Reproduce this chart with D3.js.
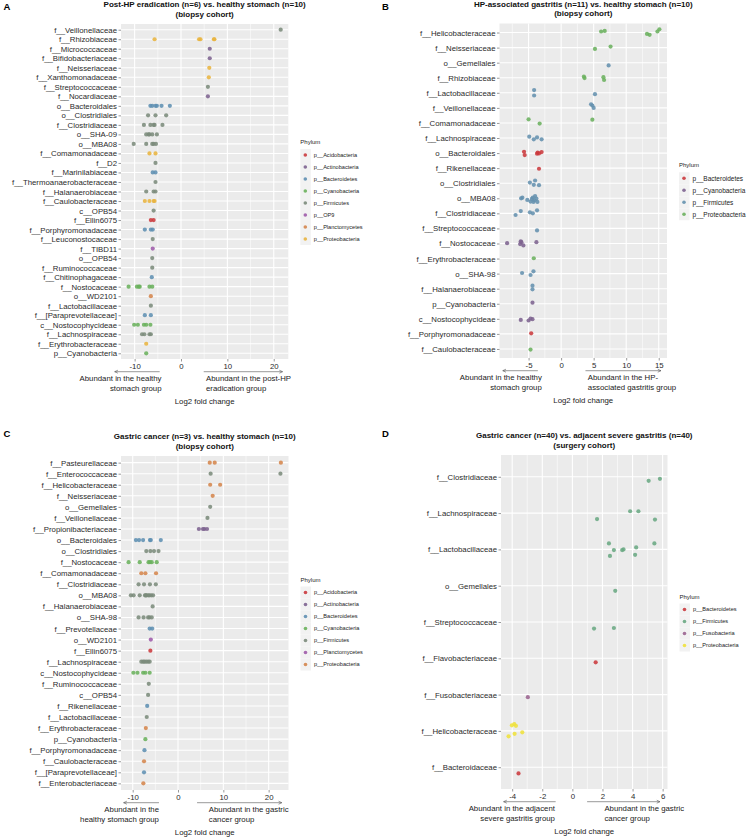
<!DOCTYPE html>
<html><head><meta charset="utf-8">
<script src="https://cdn.jsdelivr.net/npm/d3@7"></script>
<style>body{margin:0;background:#fff;} svg{display:block;font-family:"Liberation Sans",Arial,Helvetica,sans-serif;}</style>
</head><body><svg id="c" width="749" height="837"></svg>
<script>
// ---------- Panel A data ----------
const catsA = ["f__Veillonellaceae","f__Rhizobiaceae","f__Micrococcaceae","f__Bifidobacteriaceae","f__Neisseriaceae","f__Xanthomonadaceae","f__Streptococcaceae","f__Nocardiaceae","o__Bacteroidales","o__Clostridiales","f__Clostridiaceae","o__SHA-09","o__MBA08","f__Comamonadaceae","f__D2","f__Marinilabiaceae","f__Thermoanaerobacteraceae","f__Halanaerobiaceae","f__Caulobacteraceae","c__OPB54","f__Ellin6075","f__Porphyromonadaceae","f__Leuconostocaceae","f__TIBD11","o__OPB54","f__Ruminococcaceae","f__Chitinophagaceae","f__Nostocaceae","o__WD2101","f__Lactobacillaceae","f__[Paraprevotellaceae]","c__Nostocophycideae","f__Lachnospiraceae","f__Erythrobacteraceae","p__Cyanobacteria"];
const phylumOfA = ["p__Firmicutes","p__Proteobacteria","p__Actinobacteria","p__Actinobacteria","p__Proteobacteria","p__Proteobacteria","p__Firmicutes","p__Actinobacteria","p__Bacteroidetes","p__Firmicutes","p__Firmicutes","p__Firmicutes","p__Firmicutes","p__Proteobacteria","p__Firmicutes","p__Bacteroidetes","p__Firmicutes","p__Firmicutes","p__Proteobacteria","p__Firmicutes","p__Acidobacteria","p__Bacteroidetes","p__Firmicutes","p__OP9","p__Firmicutes","p__Firmicutes","p__Bacteroidetes","p__Cyanobacteria","p__Planctomycetes","p__Firmicutes","p__Bacteroidetes","p__Cyanobacteria","p__Firmicutes","p__Proteobacteria","p__Cyanobacteria"];
const valsA = [[21.5],[-5.7,3.9,4.2,7.1,7.2],[6.2],[6.2],[6.1],[6.0],[5.8],[5.8],[-6.6,-6.2,-5.5,-5.2,-4.2,-2.4],[-7.1,-5.5,-3.2],[-8.0,-6.6,-5.9,-5.7,-4.0],[-7.5,-7.0,-6.8,-6.2,-5.2],[-10.2,-7.5,-6.2,-5.9,-5.4],[-6.8,-5.5],[-5.5],[-6.1,-5.5],[-5.5],[-7.5,-5.9,-5.5],[-7.8,-6.8,-5.9,-5.7],[-5.9],[-6.5,-5.9],[-7.8,-6.5,-6.1],[-6.1],[-6.1],[-6.2],[-6.2],[-6.3],[-11.3,-9.5,-9.1,-8.9,-6.8,-6.2],[-6.5],[-6.5],[-7.8,-6.5],[-10.1,-9.3,-8.0,-7.5,-6.6],[-8.4,-7.9,-6.8,-6.5],[-7.5],[-7.5]];
const phylaA = ["p__Acidobacteria","p__Actinobacteria","p__Bacteroidetes","p__Cyanobacteria","p__Firmicutes","p__OP9","p__Planctomycetes","p__Proteobacteria"];
const colorsA = ["#CB3A3E","#7D6390","#5F8FB2","#6AB15C","#7B8B7B","#9E5BAA","#D4854C","#E8B440"];
const ticksA = [-10,0,10,20];

// ---------- Panel B data ----------
const catsB = ["f__Helicobacteraceae","f__Neisseriaceae","o__Gemellales","f__Rhizobiaceae","f__Lactobacillaceae","f__Veillonellaceae","f__Comamonadaceae","f__Lachnospiraceae","o__Bacteroidales","f__Rikenellaceae","o__Clostridiales","o__MBA08","f__Clostridiaceae","f__Streptococcaceae","f__Nostocaceae","f__Erythrobacteraceae","o__SHA-98","f__Halanaerobiaceae","p__Cyanobacteria","c__Nostocophycideae","f__Porphyromonadaceae","f__Caulobacteraceae"];
const phylumOfB = ["p__Proteobacteria","p__Proteobacteria","p__Firmicutes","p__Proteobacteria","p__Firmicutes","p__Firmicutes","p__Proteobacteria","p__Firmicutes","p__Bacteroidetes","p__Bacteroidetes","p__Firmicutes","p__Firmicutes","p__Firmicutes","p__Firmicutes","p__Cyanobacteria","p__Proteobacteria","p__Firmicutes","p__Firmicutes","p__Cyanobacteria","p__Cyanobacteria","p__Bacteroidetes","p__Proteobacteria"];
const valsB = [[6.15,6.7,13.2,13.6,14.8,15.1],[5.2,7.6],[7.3],[3.5,3.6,6.5,6.6],[-4.15,-4.15,5.2],[4.6,4.8,5.0],[-5.0,-3.3,4.8],[-4.9,-4.2,-3.7,-3.0],[-5.7,-5.6,-3.7,-3.6,-3.4,-3.0],[-3.4],[-4.8,-4.2,-4.0,-3.4],[-6.15,-5.95,-5.2,-4.7,-4.5,-4.35,-4.25,-4.0,-3.8,-3.65,-4.1],[-7.0,-6.2,-4.8,-4.35,-3.7],[-3.7],[-8.3,-6.3,-6.2,-6.1,-5.8,-3.8],[-4.2],[-6.0,-4.7,-4.25],[-4.4,-4.4],[-4.4],[-6.2,-5.0,-4.7,-4.4],[-4.6],[-4.7]];
const jitB = [[-0.07,-0.11,0.09,0.15,-0.07,-0.22],[0.09,-0.07],[0.18],[-0.07,0.02,-0.04,0.15],[-0.18,0.18,0.09],[-0.24,-0.15,0],[-0.24,0.04,-0.22],[-0.09,0.09,-0.04,0.09],[-0.09,0.13,0.04,-0.04,0.02,-0.07],[0.04],[-0.04,0.11,-0.18,0.13],[0,-0.04,0.11,0.22,0.04,-0.04,0.24,-0.15,0.02,0.24,0.13],[0.11,-0.15,-0.07,0,-0.2],[0.13],[-0.02,0.04,-0.15,-0.09,0.13,-0.09],[-0.02],[-0.04,0.09,-0.15],[-0.2,0.04],[-0.07],[0.07,0.11,-0.02,0.02],[-0.04],[0.04]];
const phylaB = ["p__Bacteroidetes","p__Cyanobacteria","p__Firmicutes","p__Proteobacteria"];
const colorsB = ["#CB3A3E","#7D6390","#6491AE","#6BB05E"];
const ticksB = [-5,0,5,10,15];

// ---------- Panel C data ----------
const catsC = ["f__Pasteurellaceae","f__Enterococcaceae","f__Helicobacteraceae","f__Neisseriaceae","o__Gemellales","f__Veillonellaceae","f__Propionibacteriaceae","o__Bacteroidales","o__Clostridiales","f__Nostocaceae","f__Comamonadaceae","f__Clostridiaceae","o__MBA08","f__Halanaerobiaceae","o__SHA-98","f__Prevotellaceae","o__WD2101","f__Ellin6075","f__Lachnospiraceae","c__Nostocophycideae","f__Ruminococcaceae","c__OPB54","f__Rikenellaceae","f__Lactobacillaceae","f__Erythrobacteraceae","p__Cyanobacteria","f__Porphyromonadaceae","f__Caulobacteraceae","f__[Paraprevotellaceae]","f__Enterobacteriaceae"];
const phylumOfC = ["p__Proteobacteria","p__Firmicutes","p__Proteobacteria","p__Proteobacteria","p__Firmicutes","p__Firmicutes","p__Actinobacteria","p__Bacteroidetes","p__Firmicutes","p__Cyanobacteria","p__Proteobacteria","p__Firmicutes","p__Firmicutes","p__Firmicutes","p__Firmicutes","p__Bacteroidetes","p__Planctomycetes","p__Acidobacteria","p__Firmicutes","p__Cyanobacteria","p__Firmicutes","p__Firmicutes","p__Bacteroidetes","p__Firmicutes","p__Proteobacteria","p__Cyanobacteria","p__Bacteroidetes","p__Proteobacteria","p__Bacteroidetes","p__Proteobacteria"];
const valsC = [[7.0,8.1,22.7],[7.2,22.6],[7.1,9.3],[7.65],[7.1],[6.5],[4.6,5.5,5.8,6.4],[-9.3,-8.6,-7.7,-6.2,-6.0,-3.8],[-7.0,-6.1,-5.3,-4.3],[-10.9,-8.45,-6.5,-6.2,-5.8,-4.7],[-8.1,-7.2,-4.85],[-8.7,-7.5,-6.2,-4.9],[-10.4,-9.8,-8.45,-7.3,-7.1,-7.0,-6.6,-6.3,-5.9,-5.5],[-5.6],[-8.7,-7.6,-6.6,-6.3,-5.8],[-6.25,-5.7],[-6.0],[-6.1],[-8.1,-7.7,-7.4,-7.0,-6.6,-6.25],[-9.85,-8.95,-7.7,-7.2,-6.25],[-6.45],[-6.6],[-6.8],[-6.9],[-7.1],[-7.2],[-7.4],[-7.5],[-7.5],[-7.65]];
const phylaC = ["p__Acidobacteria","p__Actinobacteria","p__Bacteroidetes","p__Cyanobacteria","p__Firmicutes","p__Planctomycetes","p__Proteobacteria"];
const colorsC = ["#CB3A3E","#7D6390","#5F8FB2","#6AB15C","#7B8B7B","#9E5BAA","#D4854C"];
const ticksC = [-10,0,10,20];

// ---------- Panel D data ----------
const catsD = ["f__Clostridiaceae","f__Lachnospiraceae","f__Lactobacillaceae","o__Gemellales","f__Streptococcaceae","f__Flavobacteriaceae","f__Fusobacteriaceae","f__Helicobacteraceae","f__Bacteroidaceae"];
const phylumOfD = ["p__Firmicutes","p__Firmicutes","p__Firmicutes","p__Firmicutes","p__Firmicutes","p__Bacteroidetes","p__Fusobacteria","p__Proteobacteria","p__Bacteroidetes"];
const valsD = [[5.07,5.82],[1.64,3.84,4.39,5.49],[2.43,2.76,2.5,3.31,3.4,4.24,4.17,5.45],[2.85],[1.44,2.76],[1.55],[-2.96],[-4.24,-4.02,-3.86,-3.84,-3.75,-3.33],[-3.58]];
const jitD = [[0.11,0.055],[0.165,-0.05,-0.05,0.18],[-0.165,0.02,0.18,0.02,0,-0.055,0.15,-0.165],[0.14],[0.18,0.165],[0.11],[0.07],[0.15,-0.155,-0.19,0.08,-0.14,0.04],[0.17]];
const phylaD = ["p__Bacteroidetes","p__Firmicutes","p__Fusobacteria","p__Proteobacteria"];
const colorsD = ["#CB3A3E","#6AA883","#9B6490","#EFE13C"];
const ticksD = [-4,-2,0,2,4,6];

// ---------- layout ----------
const svg = d3.select("#c");
const FONT = 7.8;

function panel(cfg){
  const g = svg.append("g");
  const ext = d3.extent(cfg.vals.flat());
  const pad = (ext[1]-ext[0])*0.05;
  const x = d3.scaleLinear().domain([ext[0]-pad, ext[1]+pad]).range([cfg.L, cfg.R]);
  const y = d3.scalePoint().domain(cfg.cats).range([cfg.T, cfg.B]).padding(0.6);
  const color = d3.scaleOrdinal().domain(cfg.phyla).range(cfg.colors);
  const dom = x.domain();

  g.append("rect").attr("x",cfg.L).attr("y",cfg.T).attr("width",cfg.R-cfg.L).attr("height",cfg.B-cfg.T).attr("fill","#EBEBEB");

  const step = cfg.ticks[1]-cfg.ticks[0];
  const minors = [];
  for (let v = cfg.ticks[0]-step/2; v <= dom[1]; v += step) if (v >= dom[0]) minors.push(v);
  g.selectAll(".mn").data(minors).join("line")
    .attr("x1",d=>x(d)).attr("x2",d=>x(d)).attr("y1",cfg.T).attr("y2",cfg.B)
    .attr("stroke","#fff").attr("stroke-width",0.55);
  g.selectAll(".mj").data(cfg.ticks).join("line")
    .attr("x1",d=>x(d)).attr("x2",d=>x(d)).attr("y1",cfg.T).attr("y2",cfg.B)
    .attr("stroke","#fff").attr("stroke-width",1.1);
  g.selectAll(".hz").data(cfg.cats).join("line")
    .attr("x1",cfg.L).attr("x2",cfg.R).attr("y1",d=>y(d)).attr("y2",d=>y(d))
    .attr("stroke","#fff").attr("stroke-width",1.1);

  const pts = cfg.cats.flatMap((c,i)=>cfg.vals[i].map((v,j)=>({c, v, p:cfg.phy[i], dy: cfg.jit ? cfg.jit[i][j] : 0})));
  g.selectAll(".pt").data(pts).join("circle")
    .attr("cx",d=>x(d.v)).attr("cy",d=>y(d.c)+d.dy*y.step())
    .attr("r",2.1).attr("fill",d=>color(d.p)).attr("fill-opacity",0.88);

  // axes
  const ya = g.append("g").attr("transform",`translate(${cfg.L},0)`)
    .call(d3.axisLeft(y).tickSize(2.5).tickPadding(1.5));
  ya.select(".domain").remove();
  ya.selectAll("line").attr("stroke","#333").attr("stroke-width",0.5);
  ya.selectAll("text").attr("font-size",FONT).attr("fill","#2b2b2b").attr("font-family",null);

  const xa = g.append("g").attr("transform",`translate(0,${cfg.B})`)
    .call(d3.axisBottom(x).tickValues(cfg.ticks).tickSize(2.5).tickPadding(1.7).tickFormat(d => String(d)));
  xa.select(".domain").remove();
  xa.selectAll("line").attr("stroke","#333").attr("stroke-width",0.5);
  xa.selectAll("text").attr("font-size",FONT).attr("fill","#2b2b2b").attr("font-family",null);

  // titles
  const cx = (cfg.L+cfg.R)/2;
  g.append("text").attr("x",cx).attr("y",cfg.T-19.5).attr("dy","0.35em").attr("text-anchor","middle")
    .attr("font-size",8).attr("font-weight","bold").attr("fill","#111").text(cfg.title[0]);
  g.append("text").attr("x",cx).attr("y",cfg.T-10).attr("dy","0.35em").attr("text-anchor","middle")
    .attr("font-size",8).attr("font-weight","bold").attr("fill","#111").text(cfg.title[1]);
  g.append("text").attr("x",cfg.letterX).attr("y",cfg.letterY).attr("dy","0.35em")
    .attr("font-size",9.5).attr("font-weight","bold").attr("fill","#000").text(cfg.letter);

  // annotation arrows
  const ay = cfg.B+12.7;
  function arrow(xa1, xa2, headAtStart){
    const X1 = x(xa1), X2 = x(xa2);
    g.append("line").attr("x1",X1).attr("x2",X2).attr("y1",ay).attr("y2",ay).attr("stroke","#555").attr("stroke-width",0.6);
    const hx = headAtStart ? X1 : X2, s = headAtStart ? 1 : -1;
    g.append("path").attr("d",`M${hx+s*3.2},${ay-1.5}L${hx},${ay}L${hx+s*3.2},${ay+1.5}`)
      .attr("fill","none").attr("stroke","#555").attr("stroke-width",0.6);
  }
  arrow(cfg.leftArrow[0], cfg.leftArrow[1], true);
  arrow(cfg.rightArrow[0], cfg.rightArrow[1], false);
  cfg.leftText.forEach((t,i)=>g.append("text").attr("x",x(cfg.leftTextX)).attr("y",cfg.B+19.5+i*9.5).attr("dy","0.35em")
    .attr("text-anchor","end").attr("font-size",FONT).attr("fill","#222").text(t));
  cfg.rightText.forEach((t,i)=>g.append("text").attr("x",x(cfg.rightTextX)).attr("y",cfg.B+19.5+i*9.5).attr("dy","0.35em")
    .attr("text-anchor","start").attr("font-size",FONT).attr("fill","#222").text(t));
  g.append("text").attr("x",cx).attr("y",cfg.B+42.3).attr("dy","0.35em").attr("text-anchor","middle")
    .attr("font-size",FONT).attr("fill","#222").text("Log2 fold change");

  // legend
  const n = cfg.phyla.length;
  const lx = cfg.R + 12;
  const ltop = (cfg.T+cfg.B)/2 - (13 + n*12)/2;
  const lg = g.append("g");
  lg.append("text").attr("x",lx).attr("y",ltop+5).attr("dy","0.35em").attr("font-size",6).attr("fill","#222").text("Phylum");
  const it = lg.selectAll(".li").data(cfg.phyla).join("g").attr("transform",(d,i)=>`translate(${lx},${ltop+18+i*12})`);
  it.append("rect").attr("x",0).attr("y",-6).attr("width",10.5).attr("height",12).attr("fill","#F2F2F2");
  it.append("circle").attr("cx",5).attr("cy",0).attr("r",1.8).attr("fill",d=>color(d)).attr("fill-opacity",0.9);
  it.append("text").attr("x",13.5).attr("y",0).attr("dy","0.35em").attr("font-size",cfg.legendFont).attr("fill","#222").text(d=>d);
}

panel({cats:catsA, phy:phylumOfA, vals:valsA, phyla:phylaA, colors:colorsA, ticks:ticksA,
  L:121, R:288.3, T:24, B:359, letter:"A", letterX:3.5, letterY:7,
  title:["Post-HP eradication (n=6) vs. healthy stomach (n=10)","(biopsy cohort)"],
  leftArrow:[-14.3,-4.6], rightArrow:[4.9,21.9], leftTextX:-4.2, rightTextX:5.4,
  leftText:["Abundant in the healthy","stomach group"], rightText:["Abundant in the post-HP","eradication group"], legendFont:5.6});

panel({cats:catsB, phy:phylumOfB, vals:valsB, jit:jitB, phyla:phylaB, colors:colorsB, ticks:ticksB,
  L:499.5, R:667, T:23.5, B:358, letter:"B", letterX:382, letterY:7,
  title:["HP-associated gastritis (n=11) vs. healthy stomach (n=10)","(biopsy cohort)"],
  leftArrow:[-8.97,-3.58], rightArrow:[3.74,15.34], leftTextX:-2.97, rightTextX:4.1,
  leftText:["Abundant in the healthy","stomach group"], rightText:["Abundant in the HP-","associated gastritis group"], legendFont:6.5});

panel({cats:catsC, phy:phylumOfC, vals:valsC, phyla:phylaC, colors:colorsC, ticks:ticksC,
  L:121, R:288.5, T:456, B:790, letter:"C", letterX:3.5, letterY:434,
  title:["Gastric cancer (n=3) vs. healthy stomach (n=10)","(biopsy cohort)"],
  leftArrow:[-12.0,-4.2], rightArrow:[4.2,22.9], leftTextX:-4.2, rightTextX:6.8,
  leftText:["Abundant in the","healthy stomach group"], rightText:["Abundant in the gastric","cancer group"], legendFont:5.6});

panel({cats:catsD, phy:phylumOfD, vals:valsD, jit:jitD, phyla:phylaD, colors:colorsD, ticks:ticksD,
  L:501, R:667.5, T:455, B:789, letter:"D", letterX:382, letterY:434,
  title:["Gastric cancer (n=40) vs. adjacent severe gastritis (n=40)","(surgery cohort)"],
  leftArrow:[-4.57,-1.11], rightArrow:[0.98,5.82], leftTextX:-1.16, rightTextX:2.13,
  leftText:["Abundant in the adjacent","severe gastritis group"], rightText:["Abundant in the gastric","cancer group"], legendFont:5.6});
</script></body></html>
